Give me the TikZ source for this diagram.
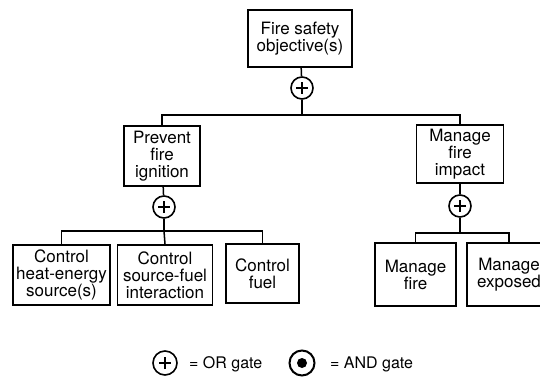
\documentclass[tikz,border=0pt]{standalone}
\usepackage{fontspec}
\setmainfont{TeX Gyre Heros}
\usepackage{tikz}
\usetikzlibrary{positioning,calc}
\tikzset{
  every node/.style={font=\fontsize{17}{17}\selectfont},
  % --- nodes
  goal/.style   = {draw=black, line width=1.9pt, fill=white, align=center,
                   inner sep=0pt, minimum height=57pt},
  gate/.style   = {circle, draw=black, line width=1.6pt, fill=white,
                   inner sep=0pt, minimum size=22pt},
  orgate/.style = {gate, path picture={
                     \draw[black, line width=1.6pt]
                       ([xshift=-6pt]path picture bounding box.center) --
                       ([xshift=6pt]path picture bounding box.center)
                       ([yshift=-6pt]path picture bounding box.center) --
                       ([yshift=6pt]path picture bounding box.center);}},
  andgate/.style= {gate, line width=2pt, minimum size=25pt, path picture={
                     \fill[black] (path picture bounding box.center) circle (5pt);}},
  key/.style    = {font=\fontsize{16}{17}\selectfont, anchor=west, inner sep=0pt},
  % --- edges
  e/.style      = {draw=black, line width=1.5pt},
}
\begin{document}
\begin{tikzpicture}[x=1pt,y=-1pt]
  \useasboundingbox (0,0) rectangle (540,377);
  \clip (0,0) rectangle (540,377);

  % top goal
  \node[goal, minimum width=104pt] (top) at (300,38.5) {Fire safety\\objective(s)};
  \node[orgate] (g0) at (302,88) {};
  \coordinate (j0) at (302,115);

  % second level
  \node[goal, minimum width=76pt, minimum height=60pt] (prevent) at (162,156) {Prevent\\fire\\ignition};
  \node[goal, minimum width=87pt, minimum height=58pt] (impact) at (460,154) {Manage\\fire\\impact};
  \node[orgate] (g1) at (164,207) {};
  \node[orgate] (g2) at (460,206) {};
  \coordinate (j1) at (164,231);
  \coordinate (j2) at (460,233);

  % third level
  \node[goal, minimum width=97pt, minimum height=60pt] (heat) at (61.5,275) {Control\\heat-energy\\source(s)};
  \node[goal, minimum width=95pt, minimum height=60pt] (interact) at (165,275) {Control\\source-fuel\\interaction};
  \node[goal, minimum width=73pt, minimum height=59pt] (fuel) at (262.5,273.5) {Control\\fuel};
  \node[goal, minimum width=81pt, minimum height=63pt] (mfire) at (415.5,274.5) {Manage\\fire};
  \node[goal, minimum width=84pt, minimum height=63pt] (exposed) at (509,274.5) {Manage\\exposed};

  % connectors
  \draw[e] (top) -- (g0);
  \draw[e] (g0) -- (j0);
  \draw[e] (prevent.north) |- (j0) -| (impact.north);
  \draw[e] (prevent) -- (g1);
  \draw[e] (g1) -- (j1);
  \draw[e] (heat.north) |- (j1) -| (fuel.north);
  \draw[e] (j1) -- (interact.north);
  \draw[e] (impact) -- (g2);
  \draw[e] (g2) -- (j2);
  \draw[e] (mfire.north) |- (j2) -| (exposed.north);

  % legend
  \node[orgate, minimum size=24pt] (kor) at (165,363) {};
  \node[key] (kortext) at (189,364) {= OR gate};
  \node[andgate] (kand) at (302,363) {};
  \node[key] (kandtext) at (330,364) {= AND gate};
\end{tikzpicture}
\end{document}
